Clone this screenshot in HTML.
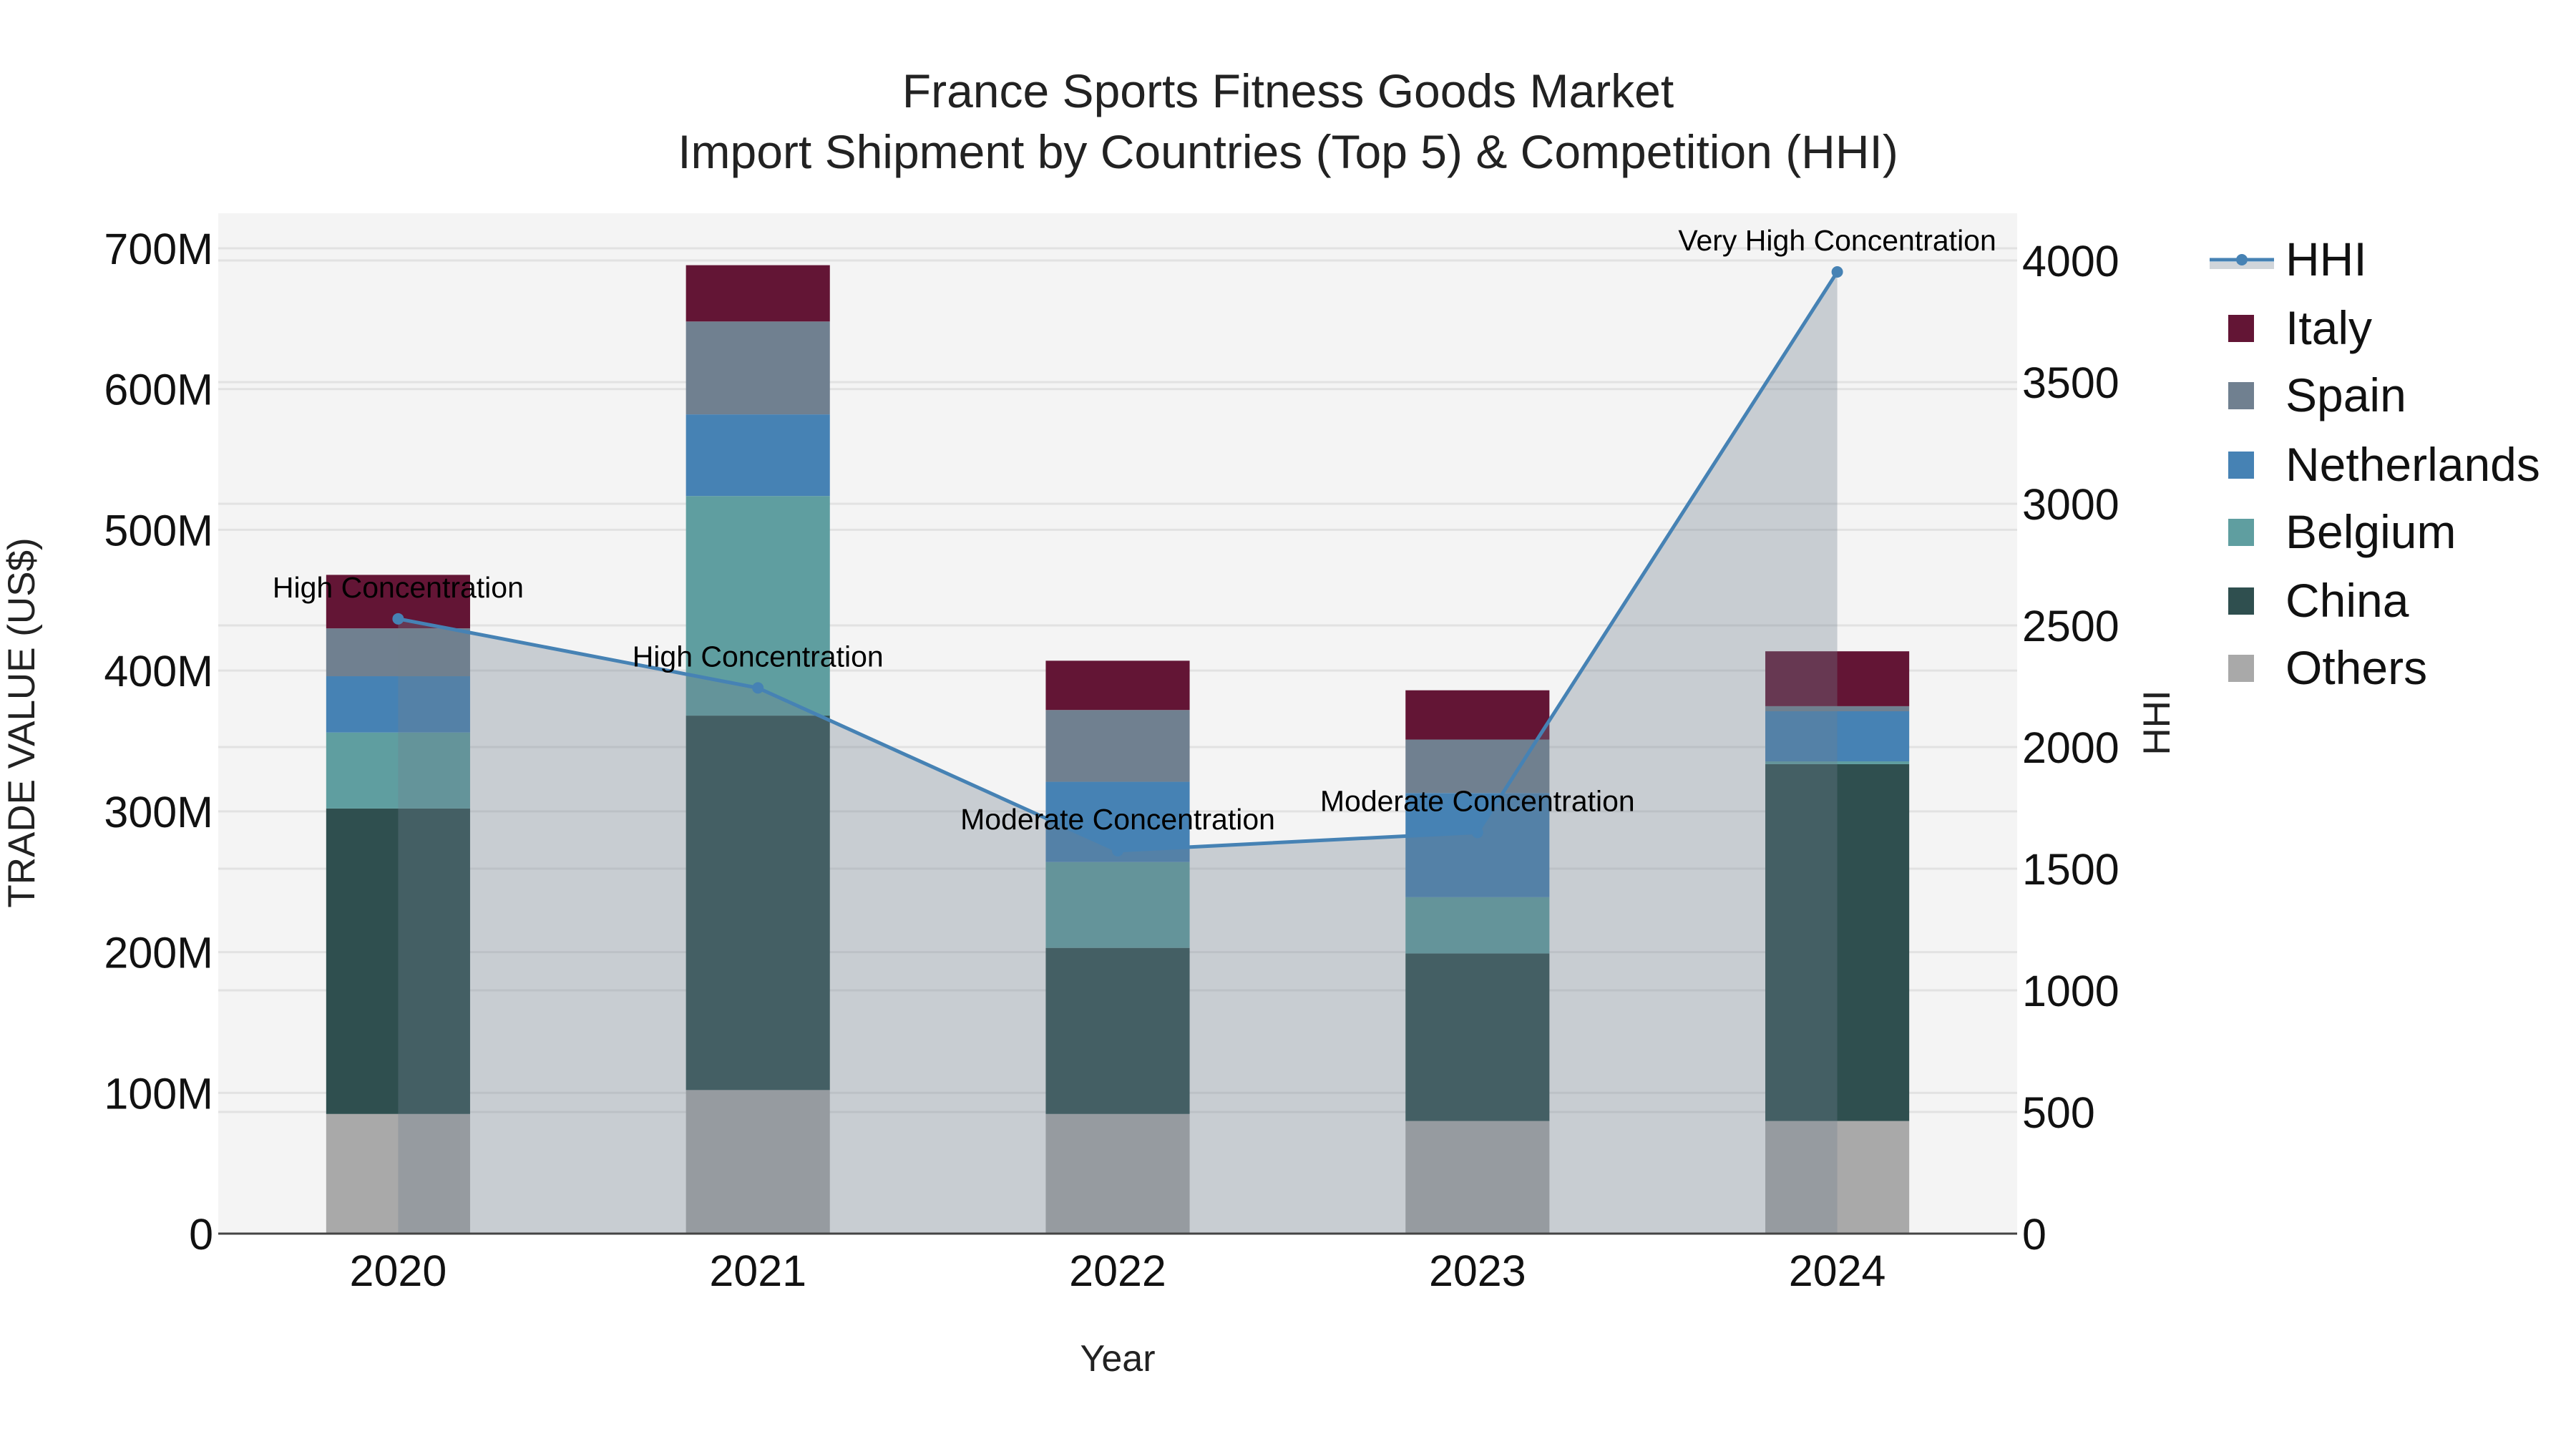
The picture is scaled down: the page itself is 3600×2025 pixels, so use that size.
<!DOCTYPE html>
<html><head><meta charset="utf-8"><style>
html,body{margin:0;padding:0;background:#fff;}
svg{display:block;font-family:"Liberation Sans",sans-serif;}
</style></head><body>
<svg id="chart" width="3600" height="2025" viewBox="0 0 3600 2025" xmlns="http://www.w3.org/2000/svg">
<rect x="0" y="0" width="3600" height="2025" fill="#fff"/>
<rect x="305" y="298" width="2514" height="1426" fill="#f4f4f4"/>
<g id="grid"></g>
<g id="bars"></g>
<g id="hhi"></g>
<g id="axes"></g>
<text x="1800" y="150" text-anchor="middle" font-size="66" fill="#222">France Sports Fitness Goods Market</text>
<text x="1800" y="235" text-anchor="middle" font-size="66" fill="#222">Import Shipment by Countries (Top 5) &amp; Competition (HHI)</text>
<text x="1562" y="1916" text-anchor="middle" font-size="52" fill="#222">Year</text>
<text transform="translate(48,1010) rotate(-90)" text-anchor="middle" font-size="53" fill="#222">TRADE VALUE (US$)</text>
<text transform="translate(3032,1010) rotate(-90)" text-anchor="middle" font-size="53" fill="#222">HHI</text>
<g id="legend"></g>
</svg>
<script>
const years = ["2020","2021","2022","2023","2024"];
const others = [85, 102, 85, 80, 80];
const china = [217, 266, 118, 119, 253.5];
const belgium = [54, 156, 61, 40, 2];
const netherlands = [40, 58, 57, 74, 35.6];
const spain = [34, 66, 51, 38, 3.6];
const italy = [38, 40, 35, 35, 39];
const hhi = [2527, 2243, 1574, 1649, 3953];
const hhiLabels = ["High Concentration","High Concentration","Moderate Concentration","Moderate Concentration","Very High Concentration"];
const yTicks = [0,100,200,300,400,500,600,700];
const yTickLabels = ["0","100M","200M","300M","400M","500M","600M","700M"];
const y2Ticks = [0,500,1000,1500,2000,2500,3000,3500,4000];

const NS="http://www.w3.org/2000/svg";
const L=305,R=2819,T=298,B=1724;
const band=(R-L)/years.length;
function xc(i){return L+band*(i+0.5);}
function yv(v){return B-v*(B-347)/700;}
function y2(v){return B-v*(B-364)/4000;}
function mk(tag,attrs,parent){const e=document.createElementNS(NS,tag);for(const k in attrs)e.setAttribute(k,attrs[k]);parent.appendChild(e);return e;}

const grid=document.getElementById('grid');
yTicks.forEach(t=>{const l=mk('line',{x1:L,x2:R,y1:yv(t),y2:yv(t),stroke:'#e2e2e2','stroke-width':3},grid);

});
y2Ticks.forEach(t=>{const l=mk('line',{x1:L,x2:R,y1:y2(t),y2:y2(t),stroke:'#e2e2e2','stroke-width':3},grid);

});

const series=[["Others",others,"#a9a9a9"],["China",china,"#2f4f4f"],["Belgium",belgium,"#5f9ea0"],["Netherlands",netherlands,"#4682b4"],["Spain",spain,"#708090"],["Italy",italy,"#631535"]];
const bars=document.getElementById('bars');
const bw=band*0.4;
years.forEach((yr,i)=>{let base=0;series.forEach(s=>{const v=s[1][i];
const r=mk('rect',{x:xc(i)-bw/2,y:yv(base+v),width:bw,height:yv(base)-yv(base+v),fill:s[2]},bars);


base+=v;});});

const g=document.getElementById('hhi');
let d='M'+xc(0)+','+B;hhi.forEach((v,i)=>d+=' L'+xc(i)+','+y2(v));d+=' L'+xc(hhi.length-1)+','+B+' Z';
const area=mk('path',{d:d,fill:'rgba(112,128,144,0.33)'},g);


const line=mk('polyline',{points:hhi.map((v,i)=>xc(i)+','+y2(v)).join(' '),fill:'none',stroke:'#4682b4','stroke-width':5},g);


hhi.forEach((v,i)=>{const c=mk('circle',{cx:xc(i),cy:y2(v),r:8,fill:'#4682b4'},g);


const t=mk('text',{x:xc(i),y:y2(v)-30,'text-anchor':'middle','font-size':41,fill:'#000'},g);t.textContent=hhiLabels[i];

});

const ax=document.getElementById('axes');
const zl=mk('line',{x1:L,x2:R,y1:B,y2:B,stroke:'#444','stroke-width':3},ax);


yTicks.forEach((t,i)=>{const e=mk('text',{x:298,y:yv(t)+22,'text-anchor':'end','font-size':61,fill:'#111'},ax);e.textContent=yTickLabels[i];

});
y2Ticks.forEach(t=>{const e=mk('text',{x:2826,y:y2(t)+22,'text-anchor':'start','font-size':61,fill:'#111'},ax);e.textContent=String(t);

});
years.forEach((yr,i)=>{const e=mk('text',{x:xc(i),y:1797,'text-anchor':'middle','font-size':61,fill:'#111'},ax);e.textContent=yr;

});

const lg=document.getElementById('legend');
const rows=[363,459,553,650,744,840,934];
const hl=mk('g',{},lg);


mk('rect',{x:3088,y:366,width:90,height:10,fill:'rgba(112,128,144,0.33)'},hl);
mk('line',{x1:3088,x2:3178,y1:363,y2:363,stroke:'#4682b4','stroke-width':5},hl);
mk('circle',{cx:3133,cy:363,r:8,fill:'#4682b4'},hl);
const ht=mk('text',{x:3194,y:385,'font-size':66,fill:'#111'},hl);ht.textContent='HHI';
const legendOrder=[...series].reverse();
legendOrder.forEach((s,k)=>{const gg=mk('g',{},lg);


const y=rows[k+1];mk('rect',{x:3114,y:y-19,width:36,height:38,fill:s[2]},gg);
const t=mk('text',{x:3194,y:y+22,'font-size':66,fill:'#111'},gg);t.textContent=s[0];});
</script>
</body></html>
